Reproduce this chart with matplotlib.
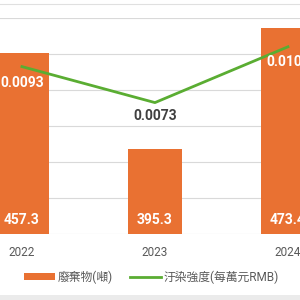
import numpy as np
import matplotlib
matplotlib.use('Agg')
import matplotlib.pyplot as plt
from matplotlib.lines import Line2D
from matplotlib.patches import Patch, Rectangle

plt.rcParams['font.family'] = ['Roboto', 'Noto Sans CJK TC', 'DejaVu Sans']

years = ['2022', '2023', '2024']
waste = [457.3, 395.3, 473.4]           # 廢棄物(噸)
intensity = [0.0093, 0.0073, 0.0104]    # 汙染強度(每萬元RMB)
waste_labels = ['457.3', '395.3', '473.4']
intensity_labels = ['0.0093', '0.0073', '0.0104']
legend_names = ['廢棄物(噸)', '汙染強度(每萬元RMB)']

ORANGE = '#E97132'
GREEN = '#5AAD32'
GRID = '#D9D9D9'

fig = plt.figure(figsize=(3, 3), dpi=100)
ax = fig.add_axes([0, 0.22, 1, 0.72])
x = np.arange(len(years))

ax.bar(x, waste, width=0.4, color=ORANGE, zorder=2)
ax.set_xlim(-0.165, -0.165 + 300 / 133)
y0 = 340.8
ax.set_ylim(y0, y0 + 216 / 1.553)
ax.set_yticks(np.linspace(y0, y0 + 216 / 1.553, 7))
ax.yaxis.grid(True, color=GRID, lw=0.8, zorder=0)
ax.set_yticklabels([])
ax.tick_params(axis='y', length=0)
ax.set_xticks(x)
ax.set_xticklabels(years, fontsize=8.5, color='#595959')
ax.tick_params(axis='x', length=0, pad=9)
for s in ax.spines.values():
    s.set_visible(False)

for xi, lab in zip(x, waste_labels):
    ax.annotate(lab, (xi, y0), xytext=(0, 14), textcoords='offset pixels',
                ha='center', va='center', color='white', fontsize=10,
                fontweight='bold', zorder=4)

ax2 = ax.twinx()
ax2.set_ylim(0, 0.012)
ax2.axis('off')
ax2.plot(x, intensity, color=GREEN, lw=2, zorder=3)
label_colors = ['white', '#404040', 'white']
offsets = [16, 13, 15]
for xi, v, lab, c, off in zip(x, intensity, intensity_labels, label_colors, offsets):
    ax2.annotate(lab, (xi, v), xytext=(0, -off), textcoords='offset pixels',
                 ha='center', va='center', color=c, fontsize=10,
                 fontweight='bold')

handles = [Patch(facecolor=ORANGE, edgecolor='none'),
           Line2D([], [], color=GREEN, lw=2)]
leg = fig.legend(handles, legend_names, loc='center', bbox_to_anchor=(0.505, 0.077),
                 ncol=2, frameon=False, fontsize=8.5, handlelength=2.6,
                 handleheight=0.45, columnspacing=1.5, handletextpad=0.2)
for t in leg.get_texts():
    t.set_color('#595959')

fig.add_artist(Line2D([0, 1], [1 - 3.5 / 300] * 2, color='#E0E0E0', lw=0.8))
fig.add_artist(Rectangle((0, 0), 1, 5.5 / 300, color='#EBEBEB', lw=0))

fig.savefig('out.png', dpi=100)
